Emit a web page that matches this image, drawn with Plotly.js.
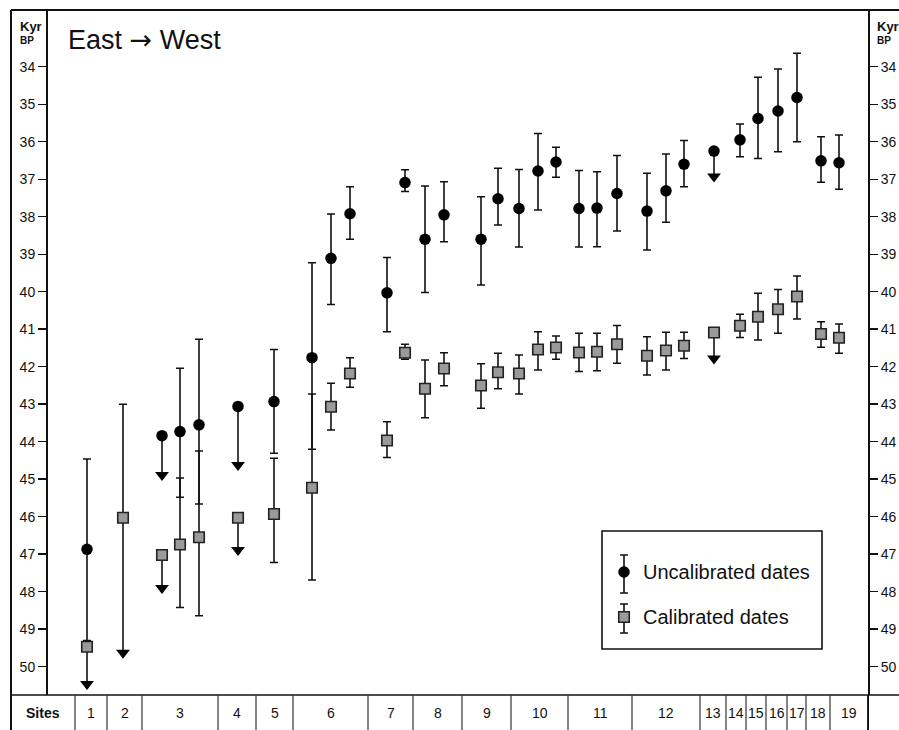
<!DOCTYPE html>
<html>
<head>
<meta charset="utf-8">
<script src="https://cdn.plot.ly/plotly-3.0.1.min.js"></script>
<style>html,body{margin:0;padding:0;background:#fff;}#chart{width:899px;height:730px;}</style>
</head>
<body>
<div id="chart"></div>
<script>
// ---- data (ages in kyr BP; positions along the East -> West transect) ----
const sampleX = [39,75,114,132,151,190,226,264,283,302,339,357,377,396,433,450,471,490,508,531,549,569,599,618,636,666,692,710,730,749,773,791];

const uncalAge   = [46.87,null,43.84,43.73,43.55,43.06,42.93,41.76,39.11,37.92,40.03,37.09,38.6,37.95,38.6,37.52,37.78,36.78,36.54,37.78,37.77,37.38,37.85,37.31,36.6,36.25,35.95,35.38,35.18,34.82,36.51,36.56];
const uncalYoung = [44.46,null,null,42.04,41.27,null,41.54,39.23,37.93,37.2,39.09,36.75,37.18,37.07,37.47,36.71,36.74,35.78,36.15,36.77,36.8,36.37,36.84,36.33,35.97,null,35.53,34.28,34.06,33.64,35.87,35.82];
const uncalOld   = [49.3,null,null,45.48,45.66,null,44.31,44.2,40.34,38.6,41.07,37.33,40.02,38.67,39.82,38.22,38.81,37.82,36.95,38.81,38.8,38.38,38.89,38.15,37.2,null,36.4,36.45,36.27,36.0,37.08,37.27];
const uncalLimit = [null,null,44.89,null,null,44.62,null,null,null,null,null,null,null,null,null,null,null,null,null,null,null,null,null,null,null,36.93,null,null,null,null,null,null];

const calAge   = [49.47,46.03,47.02,46.74,46.55,46.03,45.93,45.23,43.07,42.18,43.97,41.63,42.59,42.05,42.5,42.15,42.18,41.54,41.49,41.62,41.6,41.4,41.71,41.57,41.44,41.09,40.91,40.67,40.47,40.13,41.13,41.23];
const calYoung = [null,43.0,null,44.97,44.25,null,44.44,42.73,42.44,41.76,43.47,41.4,41.82,41.63,41.92,41.64,41.69,41.07,41.18,41.11,41.11,40.9,41.2,41.08,41.08,null,40.6,40.04,39.94,39.58,40.8,40.86];
const calOld   = [null,null,null,48.42,48.64,null,47.22,47.69,43.69,42.55,44.42,41.8,43.36,42.51,43.11,42.59,42.73,42.09,41.8,42.13,42.11,41.91,42.22,42.09,41.78,null,41.22,41.29,41.11,40.73,41.48,41.64];
const calLimit = [50.46,49.63,47.9,null,null,46.89,null,null,null,null,null,null,null,null,null,null,null,null,null,null,null,null,null,null,null,41.78,null,null,null,null,null,null];

const siteLabels = ['1','2','3','4','5','6','7','8','9','10','11','12','13','14','15','16','17','18','19'];
const siteEdges  = [27,59,94,170,208,245,320,365,414,463,520,584,652,678,698,718,739,758,782,820];
const yTicks = [34,35,36,37,38,39,40,41,42,43,44,45,46,47,48,49,50];

// ---- layout geometry ----
const W = 899, H = 730, L = 48, R = 31, T = 10, B = 35;
const PW = W - L - R, PH = H - T - B;
const px = v => (v - L) / PW;          // page pixel -> paper x
const py = v => (H - B - v) / PH;      // page pixel -> paper y
const FONT = 'Liberation Sans, Arial, sans-serif';
const INK = '#111';

function errPlus(age, old)  { return age.map((a,i) => (a!=null && old[i]!=null) ? +(old[i]-a).toFixed(3) : 0); }
function errMinus(age, yng) { return age.map((a,i) => (a!=null && yng[i]!=null) ? +(a-yng[i]).toFixed(3) : 0); }
function arrowLines(age, lim) {
  const xs = [], ys = [];
  lim.forEach((l,i) => { if (l!=null && age[i]!=null) { xs.push(sampleX[i], sampleX[i], null); ys.push(age[i], l, null); } });
  return {xs, ys};
}
function arrowHeads(lim) {
  const xs = [], ys = [];
  lim.forEach((l,i) => { if (l!=null) { xs.push(sampleX[i]); ys.push(l); } });
  return {xs, ys};
}

const uA = arrowLines(uncalAge, uncalLimit), cA = arrowLines(calAge, calLimit);
const uH = arrowHeads(uncalLimit), cH = arrowHeads(calLimit);

const errStyle = {type:'data', symmetric:false, color:INK, thickness:1.6, width:4};
const circleMarker = {symbol:'circle', size:11.5, color:'#000', line:{width:0}};
const squareMarker = {symbol:'square', size:10.5, color:'#9a9a9a', line:{width:1.6, color:'#222'}};

const traces = [
  {x: uA.xs.concat(cA.xs), y: uA.ys.concat(cA.ys), mode:'lines', line:{color:INK, width:1.6}, hoverinfo:'skip', showlegend:false},
  {x: uH.xs.concat(cH.xs), y: uH.ys.concat(cH.ys), mode:'markers', marker:{symbol:'triangle-down', size:12, color:'#000'}, hoverinfo:'skip', showlegend:false},
  {x: sampleX, y: calAge, mode:'markers', name:'Calibrated dates', marker:squareMarker,
   error_y: Object.assign({array: errPlus(calAge, calOld), arrayminus: errMinus(calAge, calYoung)}, errStyle), showlegend:false},
  {x: sampleX, y: uncalAge, mode:'markers', name:'Uncalibrated dates', marker:circleMarker,
   error_y: Object.assign({array: errPlus(uncalAge, uncalOld), arrayminus: errMinus(uncalAge, uncalYoung)}, errStyle), showlegend:false},
  // right-hand duplicate age axis
  {x:[null], y:[null], yaxis:'y2', mode:'markers', showlegend:false, hoverinfo:'skip'},
  // legend key symbols (drawn on hidden page-pixel axes)
  {x:[624], y:[572], xaxis:'x2', yaxis:'y3', mode:'markers', marker:circleMarker, showlegend:false, hoverinfo:'skip',
   error_y: Object.assign({array:[21], arrayminus:[17]}, errStyle)},
  {x:[624], y:[617], xaxis:'x2', yaxis:'y3', mode:'markers', marker:squareMarker, showlegend:false, hoverinfo:'skip',
   error_y: Object.assign({array:[16], arrayminus:[13]}, errStyle)}
];

const yRange = [50.755, 32.488];
const yCommon = {
  range: yRange, tickvals: yTicks, ticktext: yTicks.map(String), ticks:'outside', ticklen:8, tickwidth:1.4,
  tickcolor:INK, showline:true, linecolor:INK, linewidth:2, showgrid:false, zeroline:false,
  tickfont:{family:FONT, size:14, color:INK}, fixedrange:true
};

const shapes = [
  {type:'line', xref:'paper', yref:'paper', x0:px(11), x1:px(899), y0:py(10), y1:py(10), line:{color:INK, width:2}},
  {type:'line', xref:'paper', yref:'paper', x0:px(11), x1:px(11), y0:py(10), y1:py(732), line:{color:INK, width:2}},
  {type:'line', xref:'paper', yref:'paper', x0:px(11), x1:px(899), y0:0, y1:0, line:{color:INK, width:1.6}},
  {type:'line', xref:'paper', yref:'paper', x0:1, x1:1, y0:0, y1:py(732), line:{color:INK, width:2}},
  // legend frame
  {type:'rect', xref:'paper', yref:'paper', x0:px(602), x1:px(822), y0:py(531), y1:py(649), line:{color:INK, width:1.6}, fillcolor:'rgba(0,0,0,0)'}
];
siteEdges.forEach(e => shapes.push({type:'line', xref:'x', yref:'paper', x0:e, x1:e, y0:0, y1:py(732), line:{color:'#333', width:1.2}}));

const annotations = [
  {xref:'paper', yref:'paper', x:px(66), y:py(40), xanchor:'left', yanchor:'middle', showarrow:false,
   text:'East <span style="font-family:DejaVu Sans">→</span> West', font:{family:FONT, size:27, color:INK}},
  {xref:'paper', yref:'paper', x:px(18), y:py(26), xanchor:'left', yanchor:'middle', showarrow:false,
   text:'<b>Kyr</b>', font:{family:FONT, size:13, color:INK}},
  {xref:'paper', yref:'paper', x:px(18), y:py(41), xanchor:'left', yanchor:'middle', showarrow:false,
   text:'<b>BP</b>', font:{family:FONT, size:10, color:INK}},
  {xref:'paper', yref:'paper', x:px(875), y:py(26), xanchor:'left', yanchor:'middle', showarrow:false,
   text:'<b>Kyr</b>', font:{family:FONT, size:13, color:INK}},
  {xref:'paper', yref:'paper', x:px(875), y:py(41), xanchor:'left', yanchor:'middle', showarrow:false,
   text:'<b>BP</b>', font:{family:FONT, size:10, color:INK}},
  {xref:'paper', yref:'paper', x:px(43), y:py(713), xanchor:'center', yanchor:'middle', showarrow:false,
   text:'<b>Sites</b>', font:{family:FONT, size:14, color:INK}},
  {xref:'paper', yref:'paper', x:px(641), y:py(572), xanchor:'left', yanchor:'middle', showarrow:false,
   text:'Uncalibrated dates', font:{family:FONT, size:20, color:INK}},
  {xref:'paper', yref:'paper', x:px(641), y:py(617), xanchor:'left', yanchor:'middle', showarrow:false,
   text:'Calibrated dates', font:{family:FONT, size:20, color:INK}}
];
siteLabels.forEach((s,i) => annotations.push({
  xref:'x', yref:'paper', x:(siteEdges[i]+siteEdges[i+1])/2, y:py(713), xanchor:'center', yanchor:'middle',
  showarrow:false, text:s, font:{family:FONT, size:14, color:INK}
}));

const layout = {
  width:W, height:H, margin:{l:L, r:R, t:T, b:B, pad:0},
  paper_bgcolor:'#fff', plot_bgcolor:'#fff', showlegend:false,
  xaxis:{range:[0,820], visible:false, fixedrange:true},
  xaxis2:{range:[L, W-R], overlaying:'x', visible:false, fixedrange:true},
  yaxis: Object.assign({side:'left'}, yCommon),
  yaxis2: Object.assign({side:'right', overlaying:'y'}, yCommon),
  yaxis3:{range:[H-B, T], overlaying:'y', visible:false, fixedrange:true},
  shapes, annotations
};

Plotly.newPlot('chart', traces, layout, {staticPlot:true, displayModeBar:false});
</script>
</body>
</html>
